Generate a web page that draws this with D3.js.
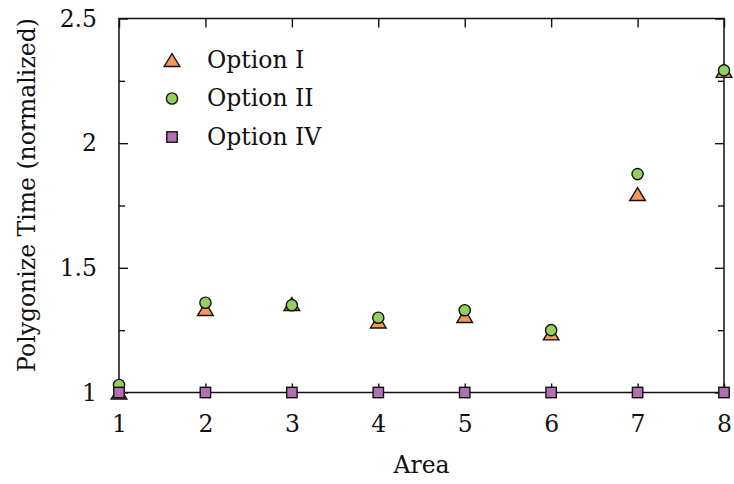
<!DOCTYPE html>
<html>
<head>
<meta charset="utf-8">
<script src="https://cdn.jsdelivr.net/npm/d3@7"></script>
<style>
  body { margin: 0; background: #fff; }
  text { font-family: "DejaVu Serif", "Liberation Serif", serif; fill: #111; }
</style>
</head>
<body>
<svg id="chart" width="734" height="484"></svg>
<script>
// data
var areas = [1, 2, 3, 4, 5, 6, 7, 8];
var optionI  = [1.00, 1.335, 1.355, 1.285, 1.307, 1.237, 1.796, 2.29];
var optionII = [1.03, 1.36, 1.35, 1.30, 1.33, 1.25, 1.876, 2.292];
var optionIV = [1, 1, 1, 1, 1, 1, 1, 1];
var yMajor = [1, 1.5, 2, 2.5];
var yMinor = [1.25, 1.75, 2.25];

var series = [
  {name: "Option I",  values: optionI,  shape: "triangle", color: "#f7975b"},
  {name: "Option II", values: optionII, shape: "circle",   color: "#94cf62"},
  {name: "Option IV", values: optionIV, shape: "square",   color: "#b36fb4"}
];

var svg = d3.select("#chart"),
    margin = {left: 119, right: 10, top: 18.5, bottom: 91.5},
    width = 734, height = 484;

var x = d3.scaleLinear().domain([1, 8]).range([margin.left, width - margin.right]);
var y = d3.scaleLinear().domain([1, 2.5]).range([height - margin.bottom, margin.top]);

var fs = 23.5;
var font = '"DejaVu Serif", "Liberation Serif", serif';

// major ticks with labels, minor ticks without
svg.append("g")
   .attr("transform", "translate(0," + y(1) + ")")
   .call(d3.axisBottom(x).tickValues(areas).tickSize(-9).tickPadding(23).tickFormat(d3.format("d")));
svg.append("g")
   .attr("transform", "translate(0," + y(2.5) + ")")
   .call(d3.axisTop(x).tickValues(areas).tickSize(-9).tickFormat(""));
svg.append("g")
   .attr("transform", "translate(" + x(1) + ",0)")
   .call(d3.axisLeft(y).tickValues(yMajor).tickSize(-9).tickPadding(22).tickFormat(d3.format("")));
svg.append("g")
   .attr("transform", "translate(" + x(1) + ",0)")
   .call(d3.axisLeft(y).tickValues(yMinor).tickSize(-6).tickFormat(""));
svg.append("g")
   .attr("transform", "translate(" + x(8) + ",0)")
   .call(d3.axisRight(y).tickValues(yMajor).tickSize(-9).tickFormat(""));
svg.append("g")
   .attr("transform", "translate(" + x(8) + ",0)")
   .call(d3.axisRight(y).tickValues(yMinor).tickSize(-6).tickFormat(""));

svg.selectAll(".domain").remove();
svg.selectAll("g").attr("font-family", null);
svg.selectAll(".tick line").attr("stroke", "#111").attr("stroke-width", 1.4);
svg.selectAll(".tick text").style("font-family", font).style("font-size", fs + "px").attr("fill", "#111");

// frame
svg.append("rect")
   .attr("x", x(1)).attr("y", y(2.5))
   .attr("width", x(8) - x(1)).attr("height", y(1) - y(2.5))
   .attr("fill", "none").attr("stroke", "#111").attr("stroke-width", 1.5);

// axis titles
svg.append("text")
   .attr("x", (x(1) + x(8)) / 2).attr("y", 473)
   .attr("text-anchor", "middle").style("font-family", font).style("font-size", fs + "px")
   .text("Area");
svg.append("text")
   .attr("transform", "translate(35,195) rotate(-90)")
   .attr("text-anchor", "middle").style("font-family", font).style("font-size", fs + "px")
   .text("Polygonize Time (normalized)");

function drawMarker(g, shape, color) {
  if (shape === "triangle") {
    g.append("path").attr("d", "M0,-6.5L7.8,6.5L-7.8,6.5Z");
  } else if (shape === "circle") {
    g.append("circle").attr("r", 5.6);
  } else {
    g.append("rect").attr("x", -5.2).attr("y", -5.2).attr("width", 10.4).attr("height", 10.4);
  }
  g.selectAll("*").attr("fill", color).attr("stroke", "#111").attr("stroke-width", 1.4);
}

// points
series.forEach(function(s) {
  svg.append("g").selectAll("g")
     .data(s.values)
     .enter().append("g")
     .attr("transform", function(d, i) { return "translate(" + x(areas[i]) + "," + y(d) + ")"; })
     .each(function() { drawMarker(d3.select(this), s.shape, s.color); });
});

// legend
var legend = svg.append("g").selectAll("g")
  .data(series)
  .enter().append("g")
  .attr("transform", function(d, i) { return "translate(172," + (60 + i * 38.5) + ")"; });
legend.each(function(d) { drawMarker(d3.select(this), d.shape, d.color); });
legend.append("text")
  .attr("x", 35).attr("y", 7.5)
  .style("font-family", font).style("font-size", fs + "px")
  .text(function(d) { return d.name; });
</script>
</body>
</html>
